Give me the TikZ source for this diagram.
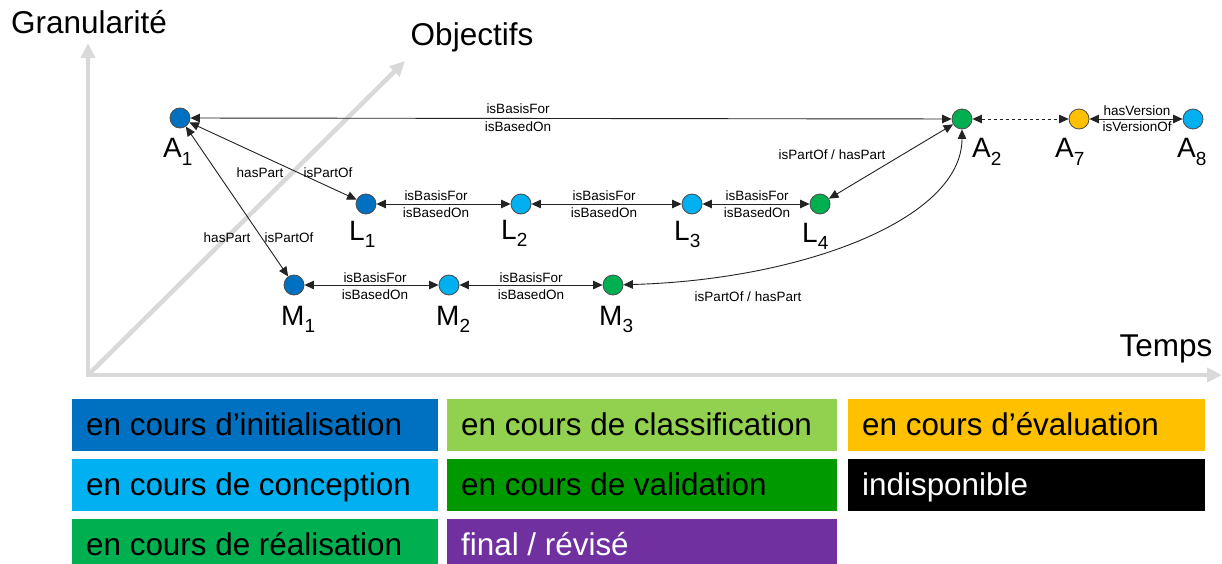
\documentclass[tikz,border=0pt]{standalone}
\usepackage{fontspec}
\setmainfont{Liberation Sans}
\usetikzlibrary{arrows.meta}
\definecolor{cinit}{RGB}{0,112,192}
\definecolor{cclass}{RGB}{146,208,80}
\definecolor{ceval}{RGB}{255,192,0}
\definecolor{cconc}{RGB}{0,176,240}
\definecolor{cvalid}{RGB}{0,153,0}
\definecolor{creal}{RGB}{0,176,80}
\definecolor{cfinal}{RGB}{112,48,160}
\definecolor{axisgray}{RGB}{217,217,217}
\definecolor{edgec}{RGB}{35,35,35}
\newcommand\nlab[2]{{\fontsize{28}{28}\selectfont #1}\raisebox{-7pt}{\fontsize{19}{19}\selectfont #2}}
\tikzset{
  state/.style={circle, draw=black!70, line width=0.8pt, minimum size=20pt, inner sep=0pt},
  axisarrow/.style={draw=axisgray, line width=4.5pt, -{Triangle[length=15pt,width=14pt]}},
  rel/.style={draw=edgec, line width=0.9pt, {Triangle[length=9.5pt,width=8.5pt]}-{Triangle[length=9.5pt,width=8.5pt]}},
  lbl/.style={font=\fontsize{13.5}{14}\selectfont, inner sep=0pt},
  big/.style={font=\fontsize{31.5}{33}\selectfont, inner sep=0pt},
  nlabel/.style={anchor=base west, inner sep=0pt},
  legbox/.style={anchor=north west, minimum height=52pt, inner sep=0pt, outer sep=0pt},
  legtext/.style={anchor=base west, inner sep=0pt, font=\fontsize{31.4}{33}\selectfont},
}
\begin{document}
\begin{tikzpicture}[x=1pt,y=-1pt]
\clip (0,0) rectangle (1222,564);
\fill[white] (0,0) rectangle (1222,564);

% axes
\coordinate (O) at (88,375);
\coordinate (Oy) at (88,43);
\coordinate (Ox) at (1222,375);
\coordinate (Oz) at (405,61);
\draw[axisarrow] (O) -- (Oy);
\draw[axisarrow] (86,375) -- (Ox);
\draw[axisarrow] (O) -- (Oz);
\node[big, anchor=base] (tgran) at (89,34) {Granularité};
\node[big, anchor=base] (tobj) at (472,46) {Objectifs};
\node[big, anchor=base] (ttemps) at (1166,356) {Temps};

% states
\node[state, fill=cinit] (A1) at (180,118) {};
\node[state, fill=creal] (A2) at (962,119) {};
\node[state, fill=ceval] (A7) at (1079,119) {};
\node[state, fill=cconc] (A8) at (1193,119) {};
\node[state, fill=cinit] (L1) at (366,204) {};
\node[state, fill=cconc] (L2) at (521,204) {};
\node[state, fill=cconc] (L3) at (692,204) {};
\node[state, fill=creal] (L4) at (820,204) {};
\node[state, fill=cinit] (M1) at (294,285) {};
\node[state, fill=cconc] (M2) at (449,285) {};
\node[state, fill=creal] (M3) at (613,285) {};

% state labels
\node[nlabel] (tA1) at (163,158) {\nlab{A}{1}};
\node[nlabel] (tA2) at (972,158) {\nlab{A}{2}};
\node[nlabel] (tA7) at (1055,158) {\nlab{A}{7}};
\node[nlabel] (tA8) at (1177,158) {\nlab{A}{8}};
\node[nlabel] (tL1) at (349,240) {\nlab{L}{1}};
\node[nlabel] (tL2) at (501,239) {\nlab{L}{2}};
\node[nlabel] (tL3) at (674,240) {\nlab{L}{3}};
\node[nlabel] (tL4) at (802,242) {\nlab{L}{4}};
\node[nlabel] (tM1) at (281,325) {\nlab{M}{1}};
\node[nlabel] (tM2) at (436,325) {\nlab{M}{2}};
\node[nlabel] (tM3) at (599,325) {\nlab{M}{3}};

% relations
\draw[rel] (A1) -- (A2);
\draw[rel] (A1) -- (L1);
\draw[rel] (A1) -- (M1);
\draw[rel] (L1) -- (L2);
\draw[rel] (L2) -- (L3);
\draw[rel] (L3) -- (L4);
\draw[rel] (M1) -- (M2);
\draw[rel] (M2) -- (M3);
\draw[rel] (A2) -- (L4);
\draw[rel] (M3) .. controls (800,280) and (962,220) .. (A2);
\draw[rel, dashed] (A2) -- (A7);
\draw[rel] (A7) -- (A8);

% relation labels
\node[lbl] (r1a) at (518,109) {isBasisFor};
\node[lbl] (r1b) at (518,127) {isBasedOn};
\node[lbl] (r2a) at (260,173) {hasPart};
\node[lbl] (r2b) at (328,173) {isPartOf};
\node[lbl] (r3a) at (227,238) {hasPart};
\node[lbl] (r3b) at (289,238) {isPartOf};
\node[lbl] (r4a) at (436,196) {isBasisFor};
\node[lbl] (r4b) at (436,213) {isBasedOn};
\node[lbl] (r5a) at (604,196) {isBasisFor};
\node[lbl] (r5b) at (604,213) {isBasedOn};
\node[lbl] (r6a) at (757,196) {isBasisFor};
\node[lbl] (r6b) at (757,213) {isBasedOn};
\node[lbl] (r7a) at (375,278) {isBasisFor};
\node[lbl] (r7b) at (375,295) {isBasedOn};
\node[lbl] (r8a) at (531,278) {isBasisFor};
\node[lbl] (r8b) at (531,295) {isBasedOn};
\node[lbl] (r9) at (832,155) {isPartOf / hasPart};
\node[lbl] (r10) at (748,297) {isPartOf / hasPart};
\node[lbl] (r11a) at (1137,111) {hasVersion};
\node[lbl] (r11b) at (1137,127) {isVersionOf};

% legend
\node[legbox, fill=cinit, minimum width=366pt] (b1) at (72,399) {};
\node[legbox, fill=cconc, minimum width=366pt] (b2) at (72,459) {};
\node[legbox, fill=creal, minimum width=366pt] (b3) at (72,519) {};
\node[legbox, fill=cclass, minimum width=390pt] (b4) at (447,399) {};
\node[legbox, fill=cvalid, minimum width=390pt] (b5) at (447,459) {};
\node[legbox, fill=cfinal, minimum width=390pt] (b6) at (447,519) {};
\node[legbox, fill=ceval, minimum width=357pt] (b7) at (848,399) {};
\node[legbox, fill=black, minimum width=357pt] (b8) at (848,459) {};
\node[legtext] (l1) at (86,435) {en cours d’initialisation};
\node[legtext] (l2) at (86,495) {en cours de conception};
\node[legtext] (l3) at (86,555) {en cours de réalisation};
\node[legtext] (l4) at (461,435) {en cours de classification};
\node[legtext] (l5) at (461,495) {en cours de validation};
\node[legtext, text=white] (l6) at (461,555) {final / révisé};
\node[legtext] (l7) at (862,435) {en cours d’évaluation};
\node[legtext, text=white] (l8) at (862,495) {indisponible};
\end{tikzpicture}
\end{document}
